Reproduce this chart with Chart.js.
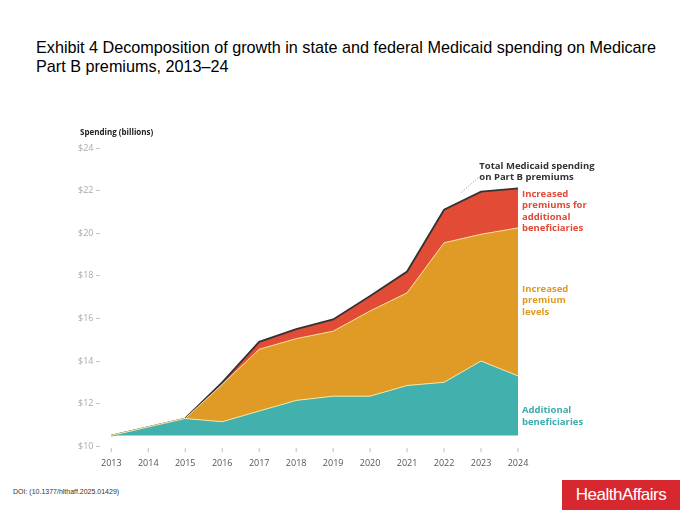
<!DOCTYPE html>
<html><head><meta charset="utf-8">
<script src="https://cdn.jsdelivr.net/npm/chart.js@4"></script>
<style>
body{margin:0;background:#fff;width:680px;height:510px;position:relative;font-family:"Liberation Sans",Arial,sans-serif;overflow:hidden}
#title{position:absolute;left:36px;top:38px;font-size:16.2px;line-height:19px;color:#000;width:640px}
#wrap{position:absolute;left:75px;top:120px;width:585px;height:353px}
#doi{position:absolute;left:13px;top:488px;font-size:7px;color:#333}
#logo{position:absolute;left:562px;top:480px;width:118px;height:30px;background:#d8282f;color:#fff;font-size:17px;line-height:30px;text-align:center;letter-spacing:-0.5px}
</style></head><body>
<div id="title">Exhibit 4 Decomposition of growth in state and federal Medicaid spending on Medicare Part B premiums, 2013–24</div>
<div id="wrap"><canvas id="c"></canvas></div>
<div id="doi">DOI: (10.1377/hlthaff.2025.01429)</div>
<div id="logo">HealthAffairs</div>
<script>
const years=['2013','2014','2015','2016','2017','2018','2019','2020','2021','2022','2023','2024'];
const additionalBeneficiaries=[10.5,10.9,11.3,11.15,11.65,12.15,12.35,12.35,12.85,13.0,14.0,13.3];
const increasedPremiumLevels=[0,0,0,1.75,2.9,2.9,3.05,4.0,4.35,6.55,5.95,6.95];
const increasedPremiumsAdditional=[0,0,0,0.1,0.35,0.45,0.55,0.7,1.0,1.55,2.0,1.85];
const yTicks=[10,12,14,16,18,20,22,24];
const labelPlugin={id:'lbl',afterDraw(ch){
 const c=ch.ctx,x=ch.scales.x,y=ch.scales.y;
 c.save();c.font='bold 9.5px "Open Sans",sans-serif';c.textBaseline='top';
 const lx=x.getPixelForValue(11)+4;
 const put=(lines,color,top)=>{c.fillStyle=color;lines.forEach((l,i)=>c.fillText(l,lx,top+i*11.5));};
 put(['Increased','premiums for','additional','beneficiaries'],'#e04a36',y.getPixelForValue(22.15)+2);
 put(['Increased','premium','levels'],'#e09a24',y.getPixelForValue(17.5)-2);
 put(['Additional','beneficiaries'],'#3aaca9',y.getPixelForValue(11.8)-2);
 c.fillStyle='#333';
 const tx=x.getPixelForValue(9.9)+2;
 c.fillText('Total Medicaid spending',tx,y.getPixelForValue(23.35));
 c.fillText('on Part B premiums',tx,y.getPixelForValue(23.35)+11);
 c.setLineDash([1,2]);c.strokeStyle='#666';c.lineWidth=0.8;c.beginPath();
 c.moveTo(tx-1,y.getPixelForValue(22.6));c.lineTo(x.getPixelForValue(9.45),y.getPixelForValue(21.9));c.stroke();
 c.setLineDash([]);
 c.strokeStyle='#bbb';c.lineWidth=1;
 years.forEach((_,i)=>{const px=x.getPixelForValue(i);c.beginPath();c.moveTo(px,y.bottom+2);c.lineTo(px,y.bottom+6);c.stroke();});
 c.fillStyle='#222';c.font='bold 8px "Open Sans",sans-serif';c.textBaseline='alphabetic';
 c.fillText('Spending (billions)',5,15);
 c.restore();}};
new Chart(document.getElementById('c'),{type:'line',
 data:{labels:years,datasets:[
  {data:additionalBeneficiaries,backgroundColor:'#42b0ad',borderColor:'#f4e6a0',borderWidth:1,fill:{value:10.5},pointRadius:0,tension:0},
  {data:increasedPremiumLevels,backgroundColor:'#e09a26',borderColor:'#f6dc9a',borderWidth:1,fill:'-1',pointRadius:0,tension:0},
  {data:increasedPremiumsAdditional,backgroundColor:'#e24c36',borderColor:'#333',borderWidth:1.8,fill:'-1',pointRadius:0,tension:0}
 ]},
 options:{responsive:true,maintainAspectRatio:false,animation:false,
  layout:{padding:{left:0,right:142,top:28,bottom:0}},
  plugins:{legend:{display:false},tooltip:{enabled:false}},
  scales:{
   x:{offset:false,grid:{display:false},border:{display:false},
      ticks:{color:'#555',font:{size:9,family:'"Open Sans",sans-serif'},padding:4}},
   y:{stacked:true,min:10,max:24,afterBuildTicks(a){a.ticks=yTicks.map(v=>({value:v}));},
      grid:{display:false},border:{display:false},
      ticks:{color:'#aaa',font:{size:9,family:'"Open Sans",sans-serif'},callback:v=>'$'+v+' –'}}
  }},
 plugins:[labelPlugin]});
</script></body></html>
